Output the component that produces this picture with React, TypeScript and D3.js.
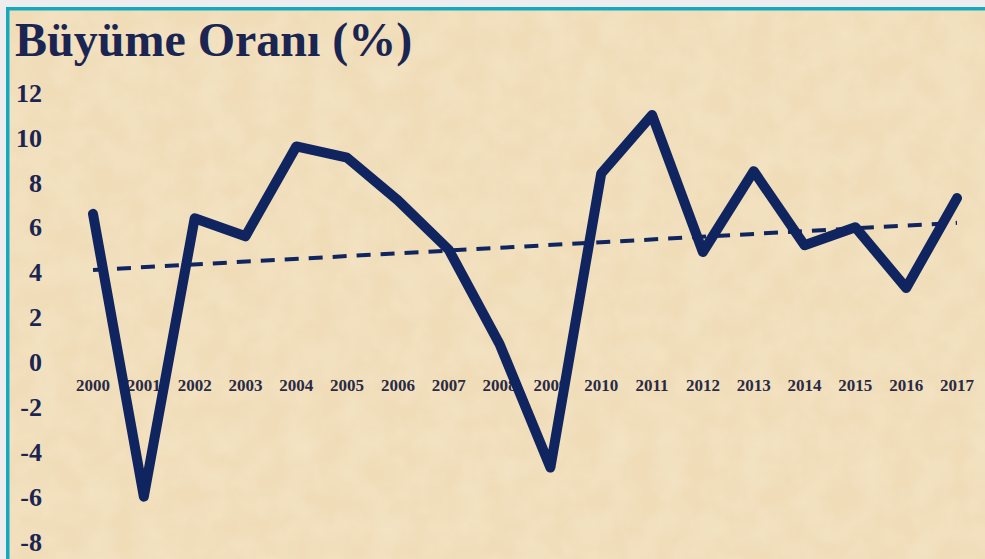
import React from "react";
import * as d3 from "d3";

const years = ["2000","2001","2002","2003","2004","2005","2006","2007","2008","2009","2010","2011","2012","2013","2014","2015","2016","2017"];
const growth = [6.6, -6.0, 6.4, 5.6, 9.6, 9.1, 7.2, 5.0, 0.8, -4.7, 8.4, 11.0, 4.9, 8.5, 5.2, 6.0, 3.3, 7.3];
const trendStart = 4.1;
const trendEnd = 6.2;
const yTicks = [12, 10, 8, 6, 4, 2, 0, -2, -4, -6, -8];
const title = "Büyüme Oranı (%)";

const W = 985;
const H = 559;
const navy = "#10255f";
const textNavy = "#1b2552";

export default function App() {
  const x = d3.scalePoint<string>().domain(years).range([93, 957]).padding(0);
  const y = d3.scaleLinear().domain([-8, 12]).range([541.6, 92.6]);

  const line = d3
    .line<number>()
    .x((_, i) => x(years[i]) as number)
    .y((d) => y(d))
    .curve(d3.curveLinear);

  const trendPath = d3
    .line<number>()
    .x((_, i) => (i === 0 ? (x(years[0]) as number) : (x(years[years.length - 1]) as number)))
    .y((d) => y(d))([trendStart, trendEnd]);

  return (
    <svg
      width={W}
      height={H}
      style={{ position: "absolute", left: 0, top: 0, display: "block" }}
      fontFamily="'Liberation Serif', 'DejaVu Serif', serif"
    >
      <defs>
        <filter id="paper" x="0" y="0" width="100%" height="100%">
          <feTurbulence type="fractalNoise" baseFrequency="0.035" numOctaves="3" seed="4" result="noise" />
          <feColorMatrix
            in="noise"
            type="matrix"
            values="0 0 0 0 0.96  0 0 0 0 0.87  0 0 0 0 0.70  0 0 0 0.55 -0.1"
            result="tint"
          />
          <feComposite in="tint" in2="SourceGraphic" operator="over" />
        </filter>
      </defs>
      <rect x={0} y={0} width={W} height={H} fill="#ededed" />
      <rect x={9} y={10} width={W - 9} height={H - 10} fill="#f0dcb6" />
      <rect x={9} y={10} width={W - 9} height={H - 10} fill="#f0dcb6" filter="url(#paper)" opacity={0.9} />
      <rect x={9} y={7} width={W - 9} height={3.5} fill="#12a9c1" />
      <rect x={6} y={7} width={3.5} height={H - 7} fill="#12a9c1" />

      <text x={15} y={56} fontSize={48} fontWeight="bold" fill={textNavy}>
        {title}
      </text>

      {yTicks.map((t) => (
        <text
          key={t}
          x={42}
          y={y(t)}
          dy="0.35em"
          textAnchor="end"
          fontSize={26}
          fontWeight="bold"
          fill={textNavy}
        >
          {t}
        </text>
      ))}

      {years.map((yr) => (
        <text
          key={yr}
          x={x(yr) as number}
          y={385}
          dy="0.35em"
          textAnchor="middle"
          fontSize={17}
          fontWeight="bold"
          fill="#2a2a44"
        >
          {yr}
        </text>
      ))}

      <path
        d={trendPath as string}
        fill="none"
        stroke={navy}
        strokeWidth={4}
        strokeDasharray="14 10"
      />
      <path
        d={line(growth) as string}
        fill="none"
        stroke={navy}
        strokeWidth={10}
        strokeLinejoin="round"
        strokeLinecap="round"
      />
    </svg>
  );
}
